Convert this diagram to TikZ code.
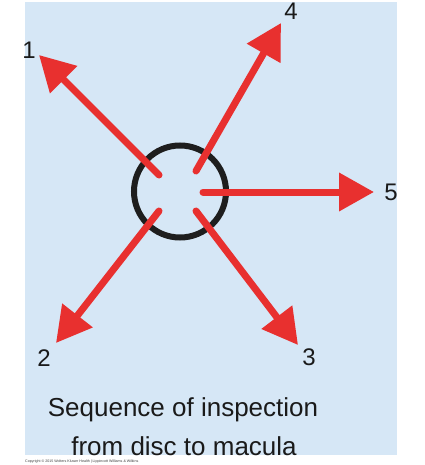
\documentclass[tikz,border=0pt]{standalone}
\usepackage{fontspec}
\setmainfont{Liberation Sans}
\usetikzlibrary{arrows.meta}
\definecolor{bgblue}{HTML}{D6E7F6}
\definecolor{arrowred}{HTML}{E8302F}
\definecolor{ringblack}{HTML}{1E1E1E}
\definecolor{txt}{HTML}{1A1A1A}
\tikzset{
  redarrow/.style={draw=arrowred, line width=7pt, line cap=round,
    -{Triangle[length=35pt, width=37pt, fill=arrowred]}},
  numlabel/.style={font=\fontsize{24pt}{28pt}\selectfont, text=txt, inner sep=0pt},
  captext/.style={font=\fontsize{26pt}{39pt}\selectfont, text=txt, inner sep=0pt, anchor=base},
}
\begin{document}
\begin{tikzpicture}[x=1pt, y=-1pt]
\useasboundingbox (0,0) rectangle (424,465);
\fill[white] (0,0) rectangle (424,465);
\fill[bgblue] (25,2) rectangle (397,455);
% disc
\node[circle, draw=ringblack, line width=6pt, minimum size=92pt, inner sep=0pt] (disc) at (180,191.5) {};
% tails
\coordinate (t1) at (159,175);
\coordinate (t4) at (196,171);
\coordinate (t5) at (203,192);
\coordinate (t3) at (196,211);
\coordinate (t2) at (159,211);
% tips
\coordinate (h1) at (39,55);
\coordinate (h4) at (281,23);
\coordinate (h5) at (374,192);
\coordinate (h3) at (298,345);
\coordinate (h2) at (56,343);
\draw[redarrow] (t1) -- (h1);
\draw[redarrow] (t4) -- (h4);
\draw[redarrow] (t5) -- (h5);
\draw[redarrow] (t3) -- (h3);
\draw[redarrow] (t2) -- (h2);
% labels
\node[numlabel] (l1) at (29,50) {1};
\node[numlabel] (l4) at (291,11) {4};
\node[numlabel] (l5) at (391,192) {5};
\node[numlabel] (l3) at (309,357) {3};
\node[numlabel] (l2) at (44,358) {2};
% caption
\node[captext] (cap1) at (183,416.5) {Sequence of inspection};
\node[captext] (cap2) at (184,455) {from disc to macula};
\node[font=\fontsize{3.6pt}{4pt}\selectfont, text=black!75, anchor=west, inner sep=0pt] (copy) at (25,461.5) {Copyright © 2015 Wolters Kluwer Health | Lippincott Williams \& Wilkins};
\end{tikzpicture}
\end{document}
